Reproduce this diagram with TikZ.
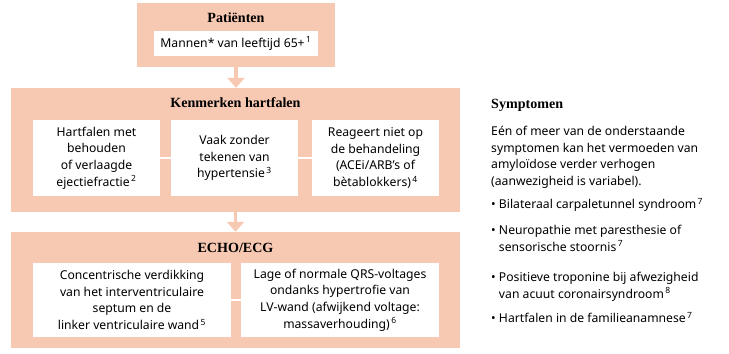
\documentclass[tikz,border=0pt]{standalone}
\usepackage{fontspec}
\setmainfont{Noto Sans}
\newfontfamily\titlefont{Liberation Serif}
\usepackage{xcolor}
\usetikzlibrary{positioning,arrows.meta}

\definecolor{peach}{HTML}{F7C8B2}
\newlength\unitpx
\setlength\unitpx{0.03cm}
\newcommand{\fn}[1]{\textsuperscript{\,#1}}

\begin{document}
\begin{tikzpicture}[x=\unitpx, y=-\unitpx,
    outerbox/.style={fill=peach, inner sep=0pt},
    innerbox/.style={fill=white, inner sep=0pt, align=center,
        font=\fontsize{10.4}{14.2}\selectfont},
    boxtitle/.style={font=\titlefont\bfseries\fontsize{12}{14}\selectfont},
    sidetext/.style={inner sep=0pt, anchor=north west, align=left,
        font=\fontsize{10.4}{14.2}\selectfont},
    flowarrow/.style={peach, line width=3.4pt, -{Triangle[width=14.5pt,length=8.5pt]}},
    joinline/.style={white, line width=0.9pt}]
    \useasboundingbox (0,0) rectangle (729,353);

    % Patienten
    \node[outerbox, minimum width=198*\unitpx, minimum height=64*\unitpx] (patient) at (236,35) {};
    \node[boxtitle] (patienttitle) at (236,18) {Patiënten};
    \node[innerbox, minimum width=164*\unitpx, minimum height=25*\unitpx] (patientage) at (236,43.5) {Mannen* van leeftijd 65+\fn{1}};

    % Kenmerken hartfalen
    \node[outerbox, minimum width=449*\unitpx, minimum height=124*\unitpx] (kenmerk) at (235.5,150) {};
    \node[boxtitle] (kenmerktitle) at (235.5,103) {Kenmerken hartfalen};
    \node[innerbox, minimum width=127*\unitpx, minimum height=76*\unitpx] (hfejectie) at (96.5,158) {Hartfalen met\\behouden\\of verlaagde\\ejectiefractie\fn{2}};
    \node[innerbox, minimum width=127*\unitpx, minimum height=76*\unitpx] (hfhyper) at (234.5,158) {Vaak zonder\\tekenen van\\hypertensie\fn{3}};
    \node[innerbox, minimum width=127*\unitpx, minimum height=76*\unitpx] (hfbehandel) at (375.5,158) {Reageert niet op\\de behandeling\\(ACEi/ARB’s of\\bètablokkers)\fn{4}};

    % ECHO/ECG
    \node[outerbox, minimum width=449*\unitpx, minimum height=116*\unitpx] (echo) at (235.5,290) {};
    \node[boxtitle] (echotitle) at (235.5,248) {ECHO/ECG};
    \node[innerbox, minimum width=198*\unitpx, minimum height=74*\unitpx] (echowand) at (132,300) {Concentrische verdikking\\van het interventriculaire\\septum en de\\linker ventriculaire wand\fn{5}};
    \node[innerbox, minimum width=198*\unitpx, minimum height=74*\unitpx] (echoqrs) at (340,300) {Lage of normale QRS-voltages\\ondanks hypertrofie van\\LV-wand (afwijkend voltage:\\massaverhouding)\fn{6}};

    \draw[flowarrow] (patient.south) -- (patient.south |- kenmerk.north);
    \draw[flowarrow] (kenmerk.south) -- (echo.north);
    \draw[joinline] (hfejectie) -- (hfhyper);
    \draw[joinline] (hfhyper) -- (hfbehandel);
    \draw[joinline] (echowand) -- (echoqrs);

    % Symptomen
    \node[boxtitle, anchor=base west, inner sep=0pt] (symtitle) at (491,108) {Symptomen};
    \node[sidetext] (symintro) at (491,126) {Eén of meer van de onderstaande\\symptomen kan het vermoeden van\\amyloïdose verder verhogen\\(aanwezigheid is variabel).};
    \node[sidetext] (symcarpal) at (491,198) {• Bilateraal carpaletunnel syndroom\fn{7}};
    \node[sidetext] (symneuro) at (491,225) {• Neuropathie met paresthesie of\\\phantom{• }sensorische stoornis\fn{7}};
    \node[sidetext] (symtropo) at (491,272) {• Positieve troponine bij afwezigheid\\\phantom{• }van acuut coronairsyndroom\fn{8}};
    \node[sidetext] (symfamilie) at (491,312) {• Hartfalen in de familieanamnese\fn{7}};
\end{tikzpicture}
\end{document}
